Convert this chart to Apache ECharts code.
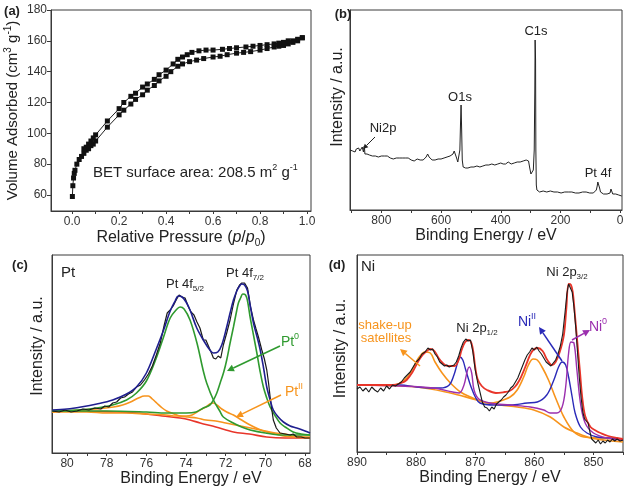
<!DOCTYPE html>
<html><head><meta charset="utf-8">
<script src="https://cdn.jsdelivr.net/npm/echarts@6/dist/echarts.min.js"></script>
<style>html,body{margin:0;padding:0;background:#fff}#c{width:625px;height:496px}</style>
</head><body><div id="c"></div>
<script>
// ---------- (a) N2 isotherm ----------
const isoAdsorption = [[0.001,59],[0.003,66],[0.006,71],[0.009,74],[0.012,76],[0.02,80],[0.03,83],[0.04,85],[0.05,87],[0.06,89],[0.07,90],[0.08,92],[0.09,93],[0.1,95],[0.15,104],[0.2,112],[0.22,115],[0.25,119],[0.27,122],[0.3,125],[0.32,128],[0.35,131],[0.37,134],[0.4,137],[0.42,140],[0.45,143.5],[0.47,145],[0.5,146.5],[0.53,147.5],[0.56,148.5],[0.6,149.5],[0.63,150],[0.66,151],[0.7,152],[0.73,152.5],[0.76,153],[0.8,154],[0.83,155],[0.86,156],[0.88,156.5],[0.9,157],[0.92,158],[0.94,159],[0.96,160],[0.98,162]];
const isoDesorption = [[0.98,162],[0.96,161],[0.94,160],[0.92,160],[0.9,159],[0.88,158.5],[0.86,158],[0.83,157.5],[0.8,157],[0.77,156.5],[0.74,156],[0.7,155.5],[0.67,155],[0.64,154.5],[0.6,154],[0.57,154],[0.54,153.5],[0.51,152.5],[0.49,151],[0.47,149.5],[0.45,148],[0.43,145],[0.4,141],[0.37,138],[0.35,135],[0.32,132],[0.3,130],[0.27,126],[0.25,124],[0.22,120],[0.2,116],[0.15,108],[0.1,99],[0.09,97],[0.08,95],[0.07,93],[0.06,91],[0.05,90]];
const aXTicks = [0,0.1,0.2,0.3,0.4,0.5,0.6,0.7,0.8,0.9,1.0];
const aXLabels = [0,0.2,0.4,0.6,0.8,1.0];
const aYLabels = [60,80,100,120,140,160,180];

// ---------- (b) XPS survey ----------
const survey = [[905,60],[900,62],[896,59],[892,61],[888,58],[884,61],[880,60],[876,62],[872,59],[868,61],[864,63],[860,58],[857,64],[855,56],[852,55],[848,56],[844,54],[840,55],[835,56],[830,54],[825,55],[820,54],[815,55],[810,53],[805,55],[800,54],[795,53],[790,54],[785,52],[780,54],[775,53],[770,52],[765,53],[760,51],[755,53],[750,52],[745,51],[740,52],[735,50],[730,52],[725,51],[720,52],[715,50],[710,52],[705,51],[700,50],[695,51],[690,49],[685,50],[680,51],[675,49],[670,50],[665,51],[660,50],[655,52],[650,53],[645,56],[640,53],[635,51],[630,50],[625,51],[620,50],[615,51],[610,51],[605,52],[600,51],[595,52],[590,52],[585,53],[580,53],[575,53],[570,54],[565,55],[560,56],[556,59],[552,57],[548,52],[544,48],[540,47],[537,60],[535,85],[533,105],[531,80],[529,50],[526,43],[522,41],[518,42],[514,41],[510,42],[505,42],[500,43],[495,42],[490,43],[485,42],[480,44],[475,43],[470,43],[465,44],[460,44],[455,45],[450,45],[445,44],[440,45],[435,46],[430,46],[425,45],[420,45],[415,46],[410,46],[405,48],[400,47],[396,49],[392,46],[388,47],[384,46],[380,47],[375,48],[370,47],[365,46],[360,47],[355,47],[350,47],[345,48],[340,47],[335,48],[330,48],[325,49],[320,48],[315,50],[311,52],[307,49],[303,42],[299,36],[295,35],[291,40],[288,60],[286,120],[285,170],[283.5,150],[282.5,60],[281,25],[279,20],[276,19],[270,18],[264,18],[258,19],[252,18],[246,18],[240,18],[234,19],[228,18],[222,18],[216,17],[210,18],[204,18],[198,17],[192,18],[186,18],[180,17],[174,18],[168,17],[162,18],[156,17],[150,17],[144,18],[138,17],[132,17],[126,18],[120,17],[114,18],[108,17],[102,17],[96,17],[90,17],[84,18],[80,20],[77,24],[75,28],[73,27],[71,29],[69,22],[66,18],[62,17],[56,16],[50,16],[44,16],[38,16],[34,17],[31,21],[28,19],[25,16],[20,16],[15,16],[10,15],[5,15],[0,14],[-5,14]];
const bXTicks = [0,100,200,300,400,500,600,700,800,900];
const bXLabels = [0,200,400,600,800];

// ---------- (c) Pt 4f ----------
const ptRaw = [[80.75,42],[80.4,41],[80.1,43],[79.8,41],[79.5,42],[79.2,44],[78.9,43],[78.6,45],[78.3,44],[78.1,47],[77.9,46],[77.7,50],[77.5,51],[77.3,55],[77.1,56],[76.9,59],[76.7,61],[76.5,66],[76.3,68],[76.1,73],[75.9,79],[75.7,87],[75.5,98],[75.3,110],[75.1,128],[74.95,140],[74.8,143],[74.65,147],[74.5,153],[74.35,158],[74.2,156],[74.05,155],[73.9,147],[73.75,141],[73.6,138],[73.45,131],[73.3,125],[73.13,113],[73.0,113],[72.85,106],[72.7,99],[72.62,95],[72.5,94],[72.38,97],[72.25,95],[72.12,108],[71.95,120],[71.78,133],[71.6,150],[71.44,163],[71.3,168],[71.19,170],[71.05,170],[70.9,165],[70.75,146],[70.6,133],[70.47,124],[70.35,116],[70.18,103],[70.05,94],[69.93,83],[69.84,70],[69.76,56],[69.68,44],[69.6,33],[69.45,25],[69.26,20],[69.0,19],[68.75,18],[68.6,19],[68.42,16],[68.2,16],[68.0,15],[67.75,15]];
const ptEnvelope = [[80.75,43],[80,44],[79.3,46],[78.5,49],[77.7,53],[77,59],[76.5,66],[76,80],[75.5,104],[75.15,122],[74.8,142],[74.55,152],[74.4,157],[74.2,156],[74,151],[73.8,143],[73.46,125],[73.1,112],[72.8,103],[72.62,100],[72.4,101],[72.2,108],[71.95,126],[71.78,140],[71.61,153],[71.44,162],[71.3,167],[71.19,169],[71.05,168],[70.9,162],[70.77,148],[70.6,130],[70.43,117],[70.27,104],[70.1,86],[69.93,66],[69.76,53],[69.6,43],[69.35,36],[69.09,31],[68.75,27],[68.42,25],[68,22],[67.75,20]];
const pt0Peak52 = [[80.75,42],[79.5,43],[78.5,45],[77.7,48],[77,53],[76.5,60],[76,72],[75.5,95],[75.15,115],[74.8,135],[74.5,143],[74.3,146],[74.1,144],[73.8,133],[73.45,110],[73.13,82],[72.96,70],[72.62,53],[72.3,42],[72.12,36],[71.62,30],[71.2,26],[70.77,23],[70,20],[69.09,18],[68,18],[67.75,18]];
const pt0Peak72 = [[80.75,42],[78,42],[76,41],[75,40],[74,40],[73.5,41],[73.13,45],[72.8,48],[72.62,53],[72.45,60],[72.28,70],[72.1,81],[71.95,93],[71.78,110],[71.61,126],[71.45,142],[71.36,150],[71.25,155],[71.14,159],[71.0,158],[70.9,152],[70.77,136],[70.6,118],[70.43,100],[70.27,82],[70.1,66],[69.93,55],[69.76,46],[69.5,37],[69.26,30],[69,26],[68.6,21],[68.2,19],[67.75,18]];
const pt2Peak52 = [[80.75,41],[79.3,43],[78.5,44],[77.66,46],[77.2,48],[76.8,51],[76.4,55],[76.1,57],[75.9,57],[75.7,54],[75.48,50],[75.2,45],[74.98,42],[74.6,39],[74.31,37],[73.9,36],[73.46,35],[73,33],[72.5,32],[72,30],[71.5,28],[71,26],[70.5,24],[70,22],[69.5,20],[69,19],[68.5,17],[68,16],[67.75,16]];
const pt2Peak72 = [[80.75,41],[79,41],[78,40],[77,40],[76,39],[75,38],[74.5,37],[74,37],[73.7,38],[73.29,43],[73.0,46],[72.8,49],[72.62,50],[72.45,48],[72.2,44],[71.95,41],[71.61,38],[71.2,33],[70.77,28],[70.35,24],[69.93,21],[69.5,19],[69.09,17],[68.5,16],[67.75,15]];
const ptBackground = [[80.75,42],[79.5,42],[78.5,41.5],[77.5,41],[76.5,40],[76,39],[75.2,37],[74.3,35],[73.8,33],[73.29,30],[72.5,26],[71.61,21],[70.8,19],[69.93,16],[69,15],[68,15],[67.75,15]];
const cXTicks = [68,69,70,71,72,73,74,75,76,77,78,79,80];
const cXLabels = [68,70,72,74,76,78,80];

// ---------- (d) Ni 2p ----------
const niRaw = [[890,63],[889.5,65],[889,61],[888.5,64],[888,60],[887.5,65],[887,62],[886.5,60],[886,64],[885.5,61],[885,66],[884.5,63],[884,67],[883.5,66],[883,68],[882.5,70],[882,74],[881.5,77],[881,80],[880.5,85],[880,90],[879.5,93],[879,98],[878.5,100],[878,104],[877.6,102],[877.2,103],[876.8,98],[876.4,95],[876,90],[875.6,88],[875.2,86],[874.8,87],[874.4,85],[874,86],[873.6,87],[873.2,90],[872.8,96],[872.4,104],[872,110],[871.6,113],[871.2,111],[870.8,112],[870.4,100],[870,82],[869.6,70],[869.2,60],[868.8,50],[868.4,45],[868,44],[867.6,41],[867.2,45],[866.8,43],[866.4,48],[866,50],[865.6,52],[865.2,55],[864.8,57],[864.4,60],[864,64],[863.6,66],[863.2,70],[862.8,74],[862.4,80],[862,86],[861.6,92],[861.2,97],[860.8,100],[860.4,104],[860,102],[859.6,105],[859.2,101],[858.8,98],[858.4,94],[858,90],[857.6,88],[857.2,86],[856.8,89],[856.4,92],[856,98],[855.6,106],[855.2,118],[854.8,140],[854.5,158],[854.2,168],[853.9,167],[853.6,160],[853.3,145],[853,125],[852.7,100],[852.4,75],[852.1,55],[851.8,40],[851.5,33],[851.2,31],[850.9,29],[850.6,20],[850.3,13],[850,11],[849.6,9],[849.2,12],[848.8,8],[848.4,11],[848,9],[847.6,12],[847.2,10],[846.8,13],[846.4,11],[846,13],[845.5,11],[845,12]];
const niEnvelope = [[890,67],[887,67],[884,67],[882.5,69],[881.6,72],[880.6,80],[879.7,90],[878.9,97],[878.2,101],[877.6,103],[876.9,101],[876.2,94],[875.5,89],[874.7,86],[873.5,86],[872.8,92],[872.3,102],[871.7,110],[871.1,112],[870.5,106],[870.0,85],[869.6,73],[868.9,66],[868.0,62],[866.5,59],[865,60],[864.2,61],[863.3,65],[862.5,72],[861.6,84],[860.8,96],[860.2,102],[859.4,104],[858.6,101],[857.8,92],[857.0,87],[856.4,90],[855.7,100],[855.0,117],[854.6,142],[854.2,168],[853.8,167],[853.5,160],[853.2,142],[852.8,115],[852.3,82],[851.9,55],[851.4,36],[850.5,25],[849.5,21],[848.8,19],[847.5,16],[846,14],[845,13]];
const niIIFit = [[890,67],[882.7,67],[879.9,65],[877.6,64],[875.9,64],[874.4,67],[873.6,77],[873.0,89],[872.6,95],[872.1,92],[871.6,82],[870.7,65],[869.9,54],[869.2,49],[866.9,47],[864.1,47],[861.2,49],[859.5,50],[857.9,57],[856.7,72],[855.9,85],[855.3,90],[854.7,87],[854.2,75],[853.6,55],[853.1,39],[852.2,25],[851.1,19],[849.4,15],[847.1,14],[845,12]];
const ni0Fit = [[890,67],[882.7,66],[877.1,64],[873.8,60],[872.7,59],[871.9,67],[871.3,82],[871.0,85],[870.6,79],[870.2,62],[869.4,53],[867.5,49],[864.1,47],[860.7,45],[858.4,42],[857.3,39],[856.2,39],[855.3,45],[854.7,65],[854.2,99],[853.8,110],[853.3,109],[852.8,82],[852.2,49],[851.4,29],[850,19],[847.7,14],[845,12]];
const niSat878 = [[890,67],[883.8,67],[881.6,74],[880.5,84],[879.6,94],[878.5,100],[877.6,99],[876.8,90],[875.6,79],[874.2,69],[872.5,60],[870.8,55],[868.6,50],[865.8,47],[862.9,45],[860.1,42],[857.3,35],[855.0,25],[852.8,19],[850.5,14],[848.2,12],[845,10]];
const niSat860 = [[890,67],[879.9,65],[874.2,59],[869.7,52],[867.5,49],[866.3,50],[864.1,55],[862.9,62],[861.8,75],[861,87],[860.2,93],[859.5,92],[858.7,85],[857.6,72],[856.4,54],[855,35],[853.3,20],[851.6,15],[848.8,14],[845,12]];
const dXTicks = [845,850,855,860,865,870,875,880,885,890];
const dXLabels = [850,860,870,880,890];

// ---------- styling ----------
const FONT = '"Liberation Sans", Arial, Helvetica, sans-serif';
const AX = '#3a3a3a', TXT = '#222';
const C = {green:'#2f9a2f', orange:'#f7941d', red:'#e8352a', navy:'#1f1f8f', blue:'#2a2ab8', purple:'#9b2fae', black:'#1a1a1a'};
function richSS(size) {
  return {
    b:{fontSize:size, fontFamily:FONT, color:TXT, lineHeight:size+4},
    it:{fontSize:size, fontFamily:FONT, fontStyle:'italic', color:TXT, lineHeight:size+4},
    sup:{fontSize:10, fontFamily:FONT, color:TXT, lineHeight:10, verticalAlign:'top'},
    sub:{fontSize:10, fontFamily:FONT, color:TXT, lineHeight:10, verticalAlign:'bottom'}
  };
}

function xAx(gi, min, max, inverse, ticks, labels, fmt, namePad) {
  return {
    type:'value', gridIndex:gi, min, max, inverse,
    axisLine:{show:true, onZero:false, lineStyle:{color:AX, width:1}},
    axisTick:{show:true, length:3, customValues:ticks, lineStyle:{color:AX}},
    axisLabel:{customValues:labels, fontSize:12, fontFamily:FONT, color:'#333', margin:5, formatter:fmt},
    splitLine:{show:false},
    nameLocation:'middle', nameGap:17,
    nameTextStyle:{fontSize:16, fontFamily:FONT, color:TXT, padding:namePad||0, rich:richSS(16)}
  };
}
function yAx(gi, min, max, gap, pad, withLabels, size) {
  return {
    type:'value', gridIndex:gi, min, max,
    axisLine:{show:true, onZero:false, lineStyle:{color:AX, width:1}},
    axisTick:{show:!!withLabels, length:4, customValues:withLabels||undefined, lineStyle:{color:AX}},
    axisLabel:{show:!!withLabels, customValues:withLabels||undefined, fontSize:12, fontFamily:FONT, color:'#333', margin:4},
    splitLine:{show:false},
    name:'Intensity / a.u.', nameLocation:'middle', nameGap:gap,
    nameTextStyle:{fontSize:size||16, fontFamily:FONT, color:TXT, padding:[0,0,0,pad], rich:richSS(size||16)}
  };
}
const xa = xAx(0, -0.09, 1.017, false, aXTicks, aXLabels, v => Number(v).toFixed(1));
xa.name = 'Relative Pressure ({it|p}/{it|p}{sub|0})';
const xb = xAx(1, -6, 905, true, bXTicks, bXLabels);
xb.name = 'Binding Energy / eV';
const xc = xAx(2, 67.75, 80.76, true, cXTicks, cXLabels, null, [0,0,0,20]);
xc.name = 'Binding Energy / eV';
const xd = xAx(3, 845, 890, true, dXTicks, dXLabels);
xd.name = 'Binding Energy / eV';

const ya = yAx(0, 49.6, 180, 29, 0, aYLabels, 15);
ya.name = '{b|Volume Adsorbed (cm}{sup|3}{b| g}{sup|-1}{b|)}';
const yb = yAx(1, 0, 200, 4, 26);
const yc = yAx(2, 0, 198, 6, 16);
const yd = yAx(3, 0, 197, 8, 10);

function line(gi, data, color, width, smooth, z) {
  return {type:'line', xAxisIndex:gi, yAxisIndex:gi, data, showSymbol:false, symbol:'none',
    smooth: smooth ? 0.35 : false, lineStyle:{color, width}, itemStyle:{color}, z: z||2, silent:true, animation:false};
}
const series = [
  {type:'line', xAxisIndex:0, yAxisIndex:0, data:isoAdsorption, symbol:'rect', symbolSize:5, showSymbol:true,
   lineStyle:{color:'#222', width:1}, itemStyle:{color:'#111'}, animation:false},
  {type:'line', xAxisIndex:0, yAxisIndex:0, data:isoDesorption, symbol:'rect', symbolSize:5, showSymbol:true,
   lineStyle:{color:'#222', width:1}, itemStyle:{color:'#111'}, animation:false},
  line(1, survey, '#222', 1, false),
  line(2, ptBackground, C.red, 1.6, true, 2),
  line(2, pt2Peak52, C.orange, 1.6, true, 3),
  line(2, pt2Peak72, C.orange, 1.6, true, 3),
  line(2, pt0Peak52, C.green, 1.6, true, 4),
  line(2, pt0Peak72, C.green, 1.6, true, 4),
  line(2, ptRaw, C.black, 1.2, false, 5),
  line(2, ptEnvelope, C.navy, 1.6, true, 6),
  line(3, niSat878, C.orange, 1.6, true, 2),
  line(3, niSat860, C.orange, 1.6, true, 2),
  line(3, niIIFit, C.blue, 1.4, true, 3),
  line(3, ni0Fit, C.purple, 1.4, true, 3),
  line(3, niEnvelope, C.red, 1.8, true, 4),
  line(3, niRaw, C.black, 1.1, false, 5)
];

// ---------- annotations ----------
function rich(base, color, weight) {
  return {
    b:{fontSize:base, fontFamily:FONT, fill:color, fontWeight:weight||'normal', lineHeight:base+5},
    sup:{fontSize:Math.round(base*0.62), fontFamily:FONT, fill:color, lineHeight:Math.round(base*0.62), verticalAlign:'top'},
    sub:{fontSize:Math.round(base*0.62), fontFamily:FONT, fill:color, lineHeight:Math.round(base*0.62), verticalAlign:'bottom'}
  };
}
function txt(x, y, text, size, color, align, weight) {
  return {type:'text', x, y, z:100, silent:true, style:{text, fill:color||TXT, fontSize:size, fontFamily:FONT,
    fontWeight:weight||'normal', align:align||'center', verticalAlign:'middle', rich:rich(size, color||TXT, weight)}};
}
function arrow(x1, y1, x2, y2, color, lw, hl, hw) {
  const dx = x2-x1, dy = y2-y1, L = Math.hypot(dx, dy), ux = dx/L, uy = dy/L;
  hl = hl||7; hw = hw||3.5;
  const bx = x2-ux*hl, by = y2-uy*hl;
  return [
    {type:'line', z:100, silent:true, shape:{x1, y1, x2:bx, y2:by}, style:{stroke:color, lineWidth:lw||1.5}},
    {type:'polygon', z:100, silent:true, shape:{points:[[x2,y2],[bx-uy*hw, by+ux*hw],[bx+uy*hw, by-ux*hw]]}, style:{fill:color}}
  ];
}
const graphic = [
  txt(12, 11, '{b|(a)}', 13, TXT, 'center', 'bold'),
  txt(343, 14, '{b|(b)}', 13, TXT, 'center', 'bold'),
  txt(20, 265, '{b|(c)}', 13, TXT, 'center', 'bold'),
  txt(337, 265, '{b|(d)}', 13, TXT, 'center', 'bold'),
  txt(93, 173, '{b|BET surface area: 208.5 m}{sup|2}{b| g}{sup|-1}', 15, TXT, 'left'),
  txt(536, 31, '{b|C1s}', 13),
  txt(460, 97, '{b|O1s}', 13),
  txt(383, 128, '{b|Ni2p}', 13),
  txt(598, 173, '{b|Pt 4f}', 13),
  ...arrow(375, 137, 363, 149, '#222', 1, 5, 2.5),
  txt(68, 273, '{b|Pt}', 15),
  txt(185, 284, '{b|Pt 4f}{sub|5/2}', 13),
  txt(245, 273, '{b|Pt 4f}{sub|7/2}', 13),
  txt(290, 342, '{b|Pt}{sup|0}', 14, C.green),
  txt(294, 392, '{b|Pt}{sup|II}', 14, C.orange),
  ...arrow(280, 346, 227, 371, C.green, 1.5),
  ...arrow(281, 395, 236, 417, C.orange, 1.5),
  txt(368, 267, '{b|Ni}', 15),
  txt(567, 272, '{b|Ni 2p}{sub|3/2}', 13),
  txt(477, 328, '{b|Ni 2p}{sub|1/2}', 13),
  txt(527, 322, '{b|Ni}{sup|II}', 14, C.blue),
  txt(598, 327, '{b|Ni}{sup|0}', 14, C.purple),
  txt(385, 325, '{b|shake-up}', 13, C.orange),
  txt(386, 338, '{b|satellites}', 13, C.orange),
  ...arrow(420, 366, 400, 349, C.orange, 1.5),
  ...arrow(562, 361, 539, 327, C.blue, 1.5),
  ...arrow(572, 340, 590, 330, C.purple, 1.5)
];

const gridBase = {show:true, borderColor:AX, borderWidth:1, containLabel:false, outerBoundsMode:'none'};
const chart = echarts.init(document.getElementById('c'), null, {renderer:'canvas'});
chart.setOption({
  animation:false,
  backgroundColor:'#fff',
  grid:[
    Object.assign({left:51, top:10, width:260, height:201}, gridBase),
    Object.assign({left:350, top:10, width:272, height:200}, gridBase),
    Object.assign({left:52, top:255, width:258, height:198}, gridBase),
    Object.assign({left:357, top:255, width:266, height:197}, gridBase)
  ],
  xAxis:[xa, xb, xc, xd],
  yAxis:[ya, yb, yc, yd],
  series,
  graphic
});
</script></body></html>
